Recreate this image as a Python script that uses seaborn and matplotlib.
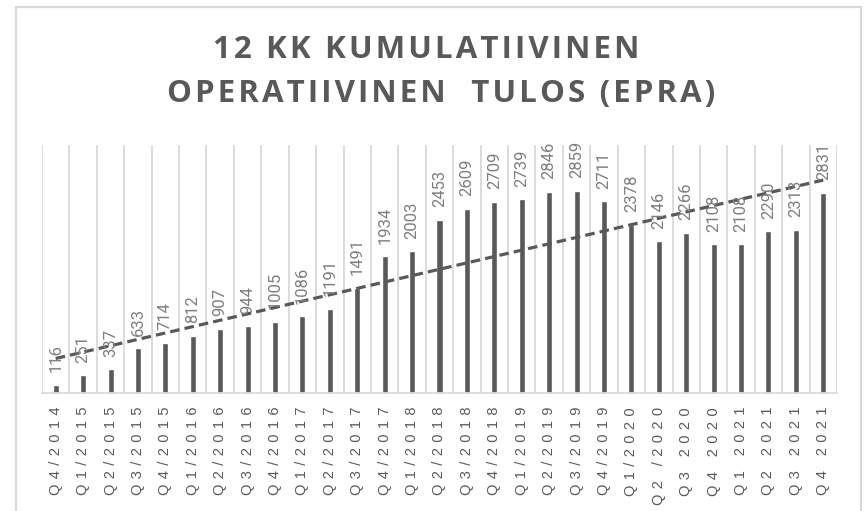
import numpy as np
import pandas as pd
import matplotlib
matplotlib.use('Agg')
import matplotlib.pyplot as plt
from matplotlib.lines import Line2D
import seaborn as sns

quarters = ['Q4/2014', 'Q1/2015', 'Q2/2015', 'Q3/2015', 'Q4/2015', 'Q1/2016', 'Q2/2016',
            'Q3/2016', 'Q4/2016', 'Q1/2017', 'Q2/2017', 'Q3/2017', 'Q4/2017', 'Q1/2018',
            'Q2/2018', 'Q3/2018', 'Q4/2018', 'Q1/2019', 'Q2/2019', 'Q3/2019', 'Q4/2019',
            'Q1/2020', 'Q2 /2020', 'Q3 2020', 'Q4 2020', 'Q1 2021', 'Q2 2021', 'Q3 2021',
            'Q4 2021']
tulos = [116, 251, 337, 633, 714, 812, 907, 944, 1005, 1086, 1191, 1491, 1934, 2003,
         2453, 2609, 2709, 2739, 2846, 2859, 2711, 2378, 2146, 2266, 2108, 2108, 2290,
         2313, 2831]
title_lines = ['12 KK KUMULATIIVINEN', 'OPERATIIVINEN  TULOS (EPRA)']

df = pd.DataFrame({'kvartaali': quarters, 'tulos': tulos})

sns.set_style('white')
plt.rcParams['font.family'] = ['Open Sans', 'DejaVu Sans']

dark = '#595959'
fig = plt.figure(figsize=(8.64, 5.11), dpi=100)
ax = fig.add_axes([42 / 864, 1 - 393 / 511, 795 / 864, 248 / 511])

sns.barplot(data=df, x='kvartaali', y='tulos', color=dark, width=0.22,
            saturation=1, ax=ax)

# linear trend line
xs = np.arange(len(tulos))
k, b = np.polyfit(xs, tulos, 1)
ax.plot([xs[0], xs[-1]], [k * xs[0] + b, k * xs[-1] + b], color=dark,
        lw=2.3, linestyle=(0, (3, 1.6)), zorder=4)

for i, v in enumerate(tulos):
    ax.annotate(str(v), (i, v), xytext=(0, 9), textcoords='offset points',
                rotation=90, ha='center', va='bottom', fontsize=12, color='#7f7f7f',
                family=['Roboto', 'DejaVu Sans'], zorder=5)

ax.set_xlim(-0.5, len(tulos) - 0.5)
ax.set_ylim(0, 3510)
ax.set_yticks([])
ax.set_xlabel('')
ax.set_ylabel('')

# letter-spaced category labels
spaced = [' \u200a'.join(list(q)) for q in quarters]
ax.set_xticks(xs)
ax.set_xticklabels(spaced, rotation=90, fontsize=10.5, color=dark,
                   family=['Liberation Sans', 'DejaVu Sans'])
ax.tick_params(axis='x', length=0, pad=10)

ax.set_xticks(np.arange(len(tulos) + 1) - 0.5, minor=True)
ax.tick_params(axis='x', which='minor', length=0)
ax.grid(True, which='minor', axis='x', color='#d9d9d9', lw=1.3)
ax.set_axisbelow(True)

for s in ['top', 'left', 'right']:
    ax.spines[s].set_visible(False)
ax.spines['bottom'].set_color('#d9d9d9')
ax.spines['bottom'].set_linewidth(1.3)

# outer chart frame
fx0, fx1, fy = 16 / 864, 861 / 864, 1 - 7 / 511
for xd, yd in [([fx0, fx0], [0, fy]), ([fx0, fx1], [fy, fy]), ([fx1, fx1], [fy, 0])]:
    fig.add_artist(Line2D(xd, yd, transform=fig.transFigure, color='#d9d9d9', lw=1.6))

for txt, xc, yc in zip(title_lines, [426, 441], [50, 94]):
    fig.text(xc / 864, 1 - yc / 511, '\u200a'.join(list(txt)), ha='center', va='center',
             fontsize=22.5, fontweight='bold', color=dark)

fig.savefig('out.png', dpi=100)
